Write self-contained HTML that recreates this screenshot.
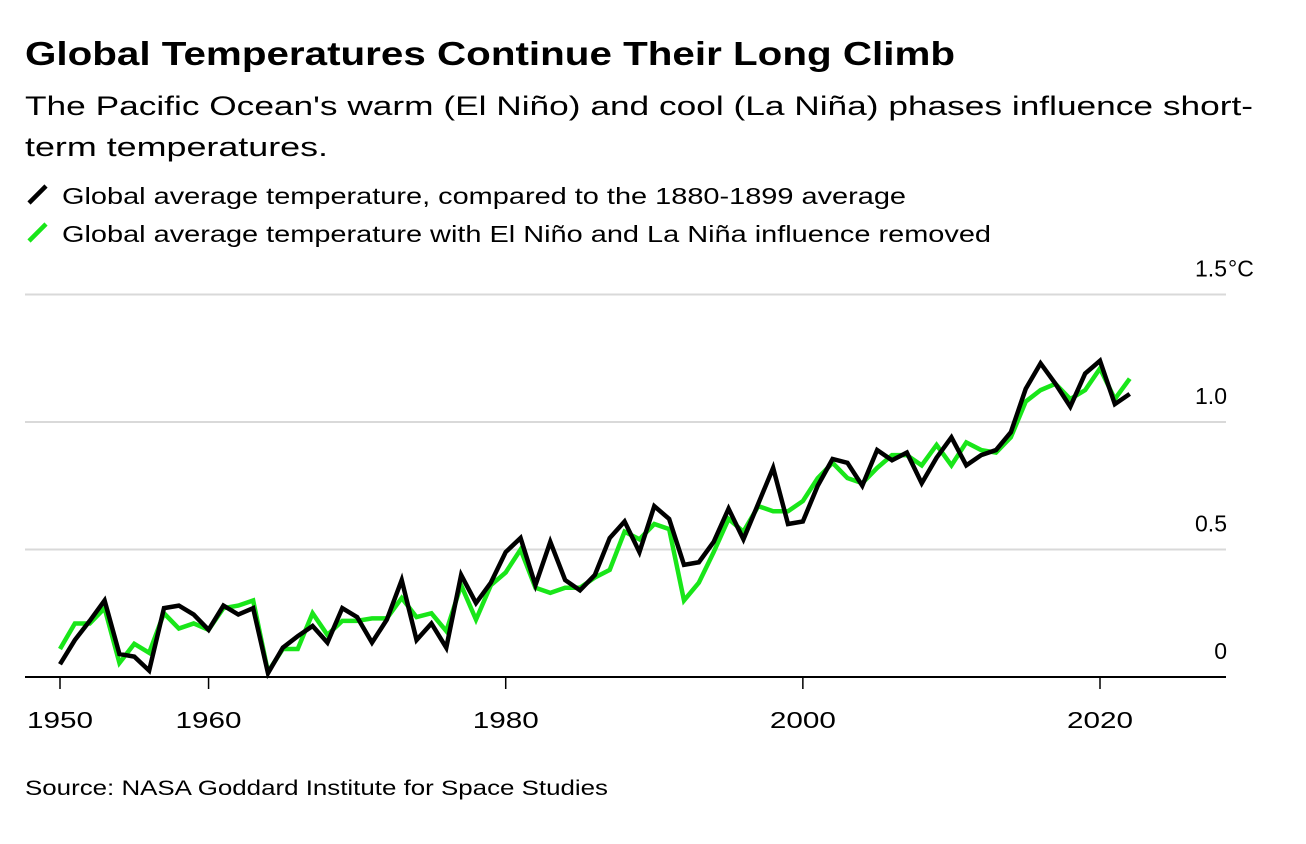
<!DOCTYPE html>
<html><head><meta charset="utf-8"><style>
body{margin:0;background:#fff;font-family:"Liberation Sans",sans-serif;color:#000;width:1306px;height:844px;overflow:hidden;position:relative}
</style></head><body>
<svg id="chart" width="1306" height="844" style="position:absolute;left:0;top:0" font-family="Liberation Sans, sans-serif">
<text x="25" y="65" font-size="33" font-weight="bold" textLength="930" lengthAdjust="spacingAndGlyphs">Global Temperatures Continue Their Long Climb</text>
<text font-size="27"><tspan x="25" y="115" textLength="1228" lengthAdjust="spacingAndGlyphs">The Pacific Ocean's warm (El Niño) and cool (La Niña) phases influence short-</tspan><tspan x="25" y="156" textLength="303" lengthAdjust="spacingAndGlyphs">term temperatures.</tspan></text>
<g><line x1="29" y1="203" x2="46" y2="186" stroke="#000" stroke-width="4.5"/><text x="62" y="204" font-size="23" textLength="844" lengthAdjust="spacingAndGlyphs">Global average temperature, compared to the 1880-1899 average</text></g>
<g><line x1="29" y1="241" x2="46" y2="224" stroke="#19e619" stroke-width="4.5"/><text x="62" y="242" font-size="23" textLength="929" lengthAdjust="spacingAndGlyphs">Global average temperature with El Niño and La Niña influence removed</text></g>
<text x="25" y="795" font-size="21" textLength="583" lengthAdjust="spacingAndGlyphs">Source: NASA Goddard Institute for Space Studies</text>
</svg>
<script>
const years=[];for(let y=1950;y<=2022;y++)years.push(y);
const actual=[0.05,0.145,0.22,0.30,0.09,0.08,0.025,0.27,0.28,0.245,0.185,0.28,0.245,0.27,0.015,0.115,0.16,0.20,0.135,0.27,0.235,0.135,0.225,0.38,0.145,0.21,0.115,0.40,0.29,0.37,0.49,0.545,0.36,0.53,0.38,0.34,0.40,0.545,0.61,0.49,0.67,0.62,0.44,0.45,0.53,0.66,0.54,0.68,0.82,0.60,0.61,0.75,0.855,0.84,0.75,0.89,0.85,0.88,0.76,0.86,0.94,0.83,0.87,0.89,0.96,1.13,1.23,1.15,1.06,1.19,1.24,1.07,1.11];
const adjusted=[0.11,0.21,0.21,0.27,0.055,0.13,0.095,0.25,0.19,0.21,0.185,0.27,0.28,0.30,0.02,0.11,0.11,0.25,0.165,0.22,0.22,0.23,0.23,0.31,0.235,0.25,0.18,0.36,0.225,0.36,0.41,0.50,0.35,0.33,0.35,0.35,0.39,0.42,0.57,0.54,0.60,0.58,0.30,0.37,0.49,0.62,0.57,0.67,0.65,0.65,0.69,0.78,0.84,0.78,0.76,0.82,0.87,0.87,0.83,0.91,0.83,0.92,0.89,0.88,0.94,1.08,1.125,1.15,1.09,1.125,1.21,1.09,1.17];
const yTicks=[0,0.5,1.0,1.5];
const yTickLabels=["0","0.5","1.0","1.5"];
const xTicks=[1950,1960,1980,2000,2020];
const svg=document.getElementById('chart');const NS='http://www.w3.org/2000/svg';
const X=y=>60+(y-1950)*(1040/70);
const Y=v=>677-v*255;
function mk(t,a){const e=document.createElementNS(NS,t);for(const k in a)e.setAttribute(k,a[k]);svg.appendChild(e);return e;}
yTicks.forEach((v,i)=>{
 if(v>0){const g=mk('line',{x1:25,x2:1226,y1:Y(v),y2:Y(v),stroke:'#d9d9d9','stroke-width':2});
 
 }
 const t=mk('text',{x:1227,y:Y(v)-18,'text-anchor':'end','font-size':23});
 t.textContent=yTickLabels[i];
 
 
 if(i===yTicks.length-1){const u=mk('text',{x:1228,y:Y(v)-18,'font-size':23});u.textContent='°C';
 
 }
});
const ax=mk('line',{x1:25,x2:1226,y1:677,y2:677,stroke:'#000','stroke-width':2});


xTicks.forEach(yr=>{
 const tk=mk('line',{x1:X(yr),x2:X(yr),y1:677,y2:689,stroke:'#000','stroke-width':1.5});
 
 
 const t=mk('text',{x:X(yr),y:728,'text-anchor':'middle','font-size':23,textLength:66,lengthAdjust:'spacingAndGlyphs'});
 t.textContent=yr;
 
 
});
function line(vals,color,name){
 const p=mk('polyline',{points:vals.map((v,i)=>X(years[i])+','+Y(v)).join(' '),fill:'none',stroke:color,'stroke-width':4.5,'stroke-linejoin':'miter','stroke-linecap':'butt'});
 
 
}
line(adjusted,'#19e619','adjusted-temperature-line');
line(actual,'#000','global-temperature-line');
</script>
</body></html>
